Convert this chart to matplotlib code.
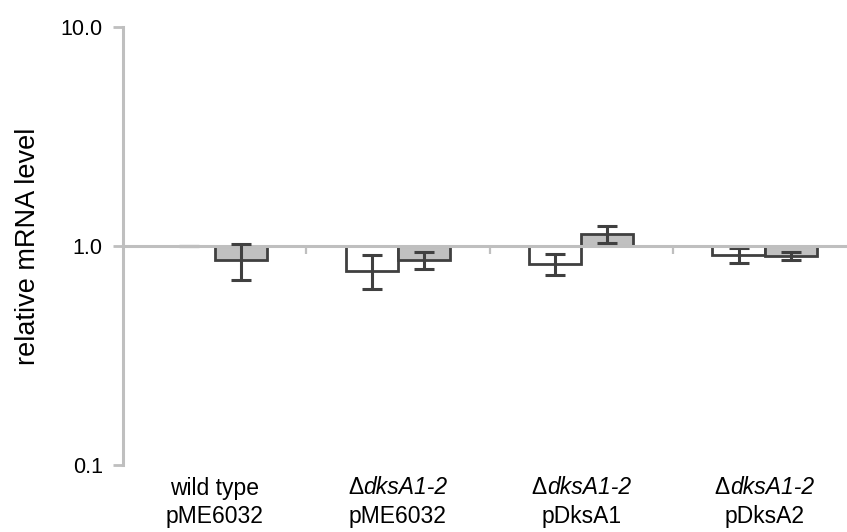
import matplotlib
matplotlib.use("Agg")
import matplotlib.pyplot as plt
import matplotlib.transforms as mtransforms
import numpy as np

# ---- data ----
line1_prefix = ["", "Δ", "Δ", "Δ"]
line1_main = ["wild type", "dksA1-2", "dksA1-2", "dksA1-2"]
line1_italic = [False, True, True, True]
line2_labels = ["pME6032", "pME6032", "pDksA1", "pDksA2"]
white_vals = [1.00, 0.77, 0.83, 0.905]
white_err = [0.0, 0.135, 0.09, 0.07]
gray_vals = [0.86, 0.86, 1.13, 0.90]
gray_err = [0.16, 0.075, 0.10, 0.04]
ytick_vals = [0.1, 1.0, 10.0]
ytick_labels = ["0.1", "1.0", "10.0"]
ylabel = "relative mRNA level"

plt.rcParams['font.family'] = ['Liberation Sans', 'DejaVu Sans']

W, H = 847, 532
fig = plt.figure(figsize=(W / 100, H / 100), dpi=100)
ax = fig.add_axes([123 / W, (H - 465) / H, 1 - 123 / W, 438 / H])
ax.set_yscale('log')
ax.set_ylim(0.1, 10)
ax.set_xlim(0, 724 / 183.3)

n = len(line2_labels)
x = np.arange(n) + 0.5
bw = 0.284
edge = '#404040'
axis_c = '#bfbfbf'

white_vals = np.array(white_vals)
gray_vals = np.array(gray_vals)
ax.bar(x - bw / 2, white_vals - 1, bottom=1, width=bw, color='white',
       edgecolor=edge, linewidth=2.0, zorder=2)
ax.bar(x + bw / 2, gray_vals - 1, bottom=1, width=bw, color='#c0c0c0',
       edgecolor=edge, linewidth=2.0, zorder=2)
ax.errorbar(x - bw / 2, white_vals, yerr=white_err, fmt='none', ecolor=edge,
            elinewidth=2.2, capsize=7.3, capthick=2.2, zorder=2.5)
ax.axhline(1, color=axis_c, lw=2.2, zorder=3)
ax.errorbar(x + bw / 2, gray_vals, yerr=gray_err, fmt='none', ecolor=edge,
            elinewidth=2.2, capsize=7.3, capthick=2.2, zorder=4)

# category separator ticks on baseline
ax.plot(np.arange(1, n), [1] * (n - 1), linestyle='none', marker=3,
        markersize=5.5, markeredgewidth=1.6, color=axis_c, zorder=3)

for s in ['top', 'right', 'bottom']:
    ax.spines[s].set_visible(False)
ax.spines['left'].set_color(axis_c)
ax.spines['left'].set_linewidth(2.2)
ax.set_yticks(ytick_vals)
ax.set_yticklabels(ytick_labels)
ax.yaxis.set_minor_locator(matplotlib.ticker.NullLocator())
ax.tick_params(axis='y', which='major', length=7.5, width=2.0, color=axis_c,
               labelsize=15.5, pad=7, labelcolor='black')
ax.set_xticks([])

fs = 16.5
trans = mtransforms.blended_transform_factory(ax.transData, ax.transAxes)
renderer = fig.canvas.get_renderer()
y1 = (465 - 488) / 438
y2 = (465 - 517) / 438
for xi, pre, main, it, l2 in zip(x, line1_prefix, line1_main, line1_italic, line2_labels):
    t1 = ax.text(xi, y1, pre, transform=trans, ha='left', va='center',
                 fontsize=fs, clip_on=False)
    t2 = ax.text(xi, y1, main, transform=trans, ha='left', va='center',
                 fontsize=fs, style='italic' if it else 'normal', clip_on=False)
    w1 = t1.get_window_extent(renderer).width if pre else 0.0
    w2 = t2.get_window_extent(renderer).width
    tot = w1 + w2
    t1.set_transform(trans + mtransforms.ScaledTranslation(-tot / 2 / 100, 0, fig.dpi_scale_trans))
    t2.set_transform(trans + mtransforms.ScaledTranslation((-tot / 2 + w1) / 100, 0, fig.dpi_scale_trans))
    ax.text(xi, y2, l2, transform=trans, ha='center',
            va='center', fontsize=fs, clip_on=False)

ax.text((28 - 123) / 724, 0.5, ylabel, transform=ax.transAxes, rotation=90,
        ha='center', va='center', fontsize=19.5)

fig.savefig('out.png', dpi=100)
